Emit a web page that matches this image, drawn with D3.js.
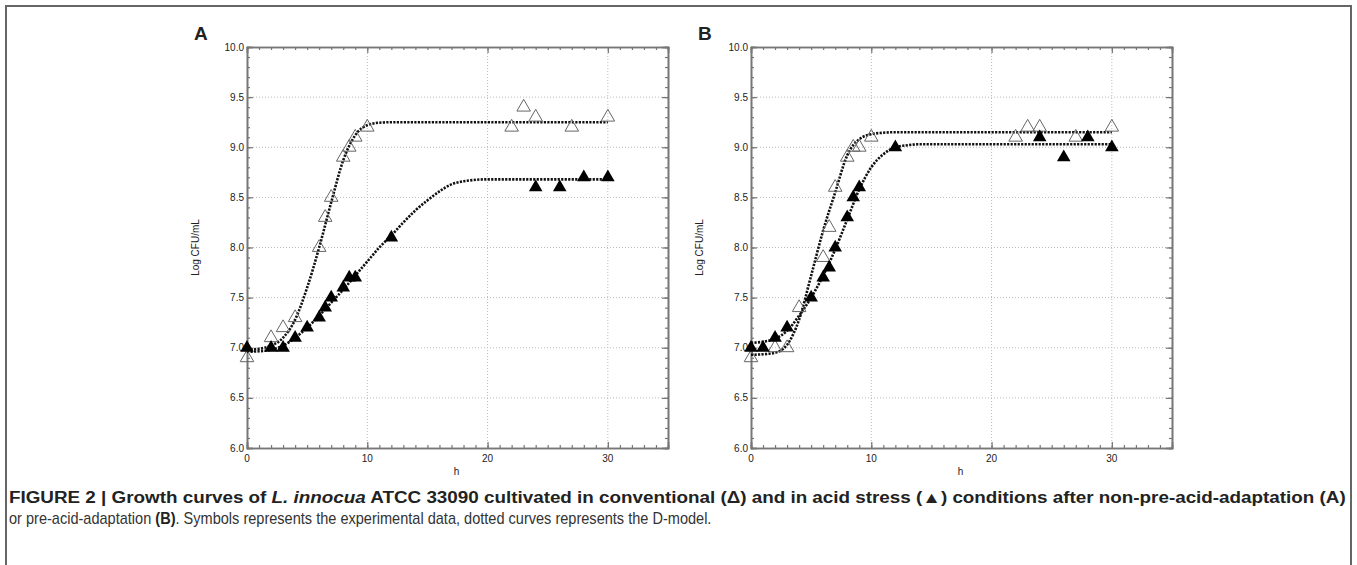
<!DOCTYPE html>
<html>
<head>
<meta charset="utf-8">
<script src="https://cdn.jsdelivr.net/npm/d3@7"></script>
<style>
	body { margin: 0; background: #fff; }
	svg { display: block; }
	text { font-family: "Liberation Sans", Arial, sans-serif; fill: #222; }
	.grid line { stroke: #bbb; stroke-width: 1; stroke-dasharray: 1 2; }
	.fit { fill: none; stroke: #111; stroke-width: 2.6; stroke-dasharray: 2.2 1.3; }
	.caption { font-family: "Liberation Sans Narrow", "Liberation Sans", Arial, sans-serif; font-size: 16px; }
</style>
</head>
<body>
<script>
// observed points, panel A (non-pre-acid-adaptation)
var hoursAConv = [0, 2, 3, 4, 6, 6.5, 7, 8, 8.5, 9, 10, 22, 23, 24, 27, 30];
var logAConv   = [6.9, 7.1, 7.2, 7.3, 8.0, 8.3, 8.5, 8.9, 9.0, 9.1, 9.2, 9.2, 9.4, 9.3, 9.2, 9.3];
var hoursAAcid = [0, 2, 3, 4, 5, 6, 6.5, 7, 8, 8.5, 9, 12, 24, 26, 28, 30];
var logAAcid   = [7.0, 7.0, 7.0, 7.1, 7.2, 7.3, 7.4, 7.5, 7.6, 7.7, 7.7, 8.1, 8.6, 8.6, 8.7, 8.7];

// observed points, panel B (pre-acid-adaptation)
var hoursBConv = [0, 2, 3, 4, 6, 6.5, 7, 8, 8.5, 9, 10, 22, 23, 24, 27, 30];
var logBConv   = [6.9, 7.0, 7.0, 7.4, 7.9, 8.2, 8.6, 8.9, 9.0, 9.0, 9.1, 9.1, 9.2, 9.2, 9.1, 9.2];
var hoursBAcid = [0, 1, 2, 3, 5, 6, 6.5, 7, 8, 8.5, 9, 12, 24, 26, 28, 30];
var logBAcid   = [7.0, 7.0, 7.1, 7.2, 7.5, 7.7, 7.8, 8.0, 8.3, 8.5, 8.6, 9.0, 9.1, 8.9, 9.1, 9.0];

// D-model curves
var fitHours = [0, 1, 2, 3, 4, 5, 6, 7, 8, 9, 10, 11, 12, 13, 14, 15, 16, 17, 18, 20, 25, 30];
var fitAConv = [6.98, 6.99, 7.02, 7.10, 7.28, 7.60, 8.00, 8.45, 8.87, 9.12, 9.22, 9.245, 9.25, 9.25, 9.25, 9.25, 9.25, 9.25, 9.25, 9.25, 9.25, 9.25];
var fitAAcid = [6.96, 6.965, 6.98, 7.02, 7.10, 7.20, 7.32, 7.45, 7.58, 7.72, 7.86, 8.00, 8.12, 8.25, 8.37, 8.47, 8.56, 8.63, 8.66, 8.68, 8.68, 8.68];
var fitBConv = [6.93, 6.935, 6.95, 7.03, 7.28, 7.72, 8.17, 8.55, 8.92, 9.08, 9.13, 9.145, 9.15, 9.15, 9.15, 9.15, 9.15, 9.15, 9.15, 9.15, 9.15, 9.15];
var fitBAcid = [7.05, 7.06, 7.09, 7.17, 7.32, 7.50, 7.72, 7.98, 8.28, 8.58, 8.80, 8.93, 9.00, 9.02, 9.03, 9.03, 9.03, 9.03, 9.03, 9.03, 9.03, 9.03];

var xMajor = [0, 10, 20, 30];
var yMajor = [6.0, 6.5, 7.0, 7.5, 8.0, 8.5, 9.0, 9.5, 10.0];

var W = 1357, H = 565;
var width = 421, height = 401;
var top0 = 47;

var svg = d3.select("body").append("svg")
	.attr("width", W)
	.attr("height", H);

// figure frame
svg.append("path")
	.attr("d", "M6,600 V6 H1351 V600")
	.attr("fill", "none")
	.attr("stroke", "#666")
	.attr("stroke-width", 2);

function zip(xs, ys) {
	return xs.map(function(x, i) { return [x, ys[i]]; });
}

function panel(left, letter, conv, acid, fits) {
	var x = d3.scaleLinear().domain([0, 35]).range([0, width]);
	var y = d3.scaleLinear().domain([6, 10]).range([height, 0]);
	var g = svg.append("g").attr("transform", "translate(" + left + "," + top0 + ")");

	// grid
	var grid = g.append("g").attr("class", "grid");
	grid.selectAll(".gx").data(xMajor.slice(1)).enter().append("line")
		.attr("x1", x).attr("x2", x).attr("y1", 0).attr("y2", height);
	grid.selectAll(".gy").data(yMajor.slice(1, -1)).enter().append("line")
		.attr("y1", y).attr("y2", y).attr("x1", 0).attr("x2", width);

	// inward ticks on all four sides
	var tickColor = "#777";
	var yMinor = d3.range(60, 101).map(function(d) { return d / 10; });
	var axes = [
		g.append("g").attr("transform", "translate(0," + height + ")")
			.call(d3.axisTop(x).tickValues(d3.range(0, 36)).tickSize(3).tickFormat("")),
		g.append("g").call(d3.axisBottom(x).tickValues(d3.range(0, 36)).tickSize(3).tickFormat("")),
		g.append("g").call(d3.axisRight(y).tickValues(yMinor).tickSize(3).tickFormat("")),
		g.append("g").attr("transform", "translate(" + width + ",0)")
			.call(d3.axisLeft(y).tickValues(yMinor).tickSize(3).tickFormat("")),
		g.append("g").call(d3.axisBottom(x).tickValues(xMajor).tickSize(6).tickFormat("")),
		g.append("g").attr("transform", "translate(0," + height + ")")
			.call(d3.axisTop(x).tickValues(xMajor).tickSize(6).tickFormat("")),
		g.append("g").call(d3.axisRight(y).tickValues(yMajor).tickSize(6).tickFormat("")),
		g.append("g").attr("transform", "translate(" + width + ",0)")
			.call(d3.axisLeft(y).tickValues(yMajor).tickSize(6).tickFormat(""))
	];
	axes.forEach(function(a) {
		a.selectAll("line").attr("stroke", tickColor).attr("stroke-width", 1.2);
		a.select(".domain").attr("stroke", tickColor).attr("stroke-width", 1.6);
	});

	// tick labels
	g.selectAll(".xl").data(xMajor).enter().append("text")
		.attr("x", x).attr("y", height + 14)
		.attr("text-anchor", "middle")
		.style("font-size", "10px")
		.text(function(d) { return d; });
	g.selectAll(".yl").data(yMajor).enter().append("text")
		.attr("x", -3).attr("y", y).attr("dy", "0.35em")
		.attr("text-anchor", "end")
		.style("font-size", "10px")
		.text(d3.format(".1f"));

	g.append("text")
		.attr("x", width / 2 - 1).attr("y", height + 27)
		.attr("text-anchor", "middle")
		.style("font-size", "10px")
		.text("h");
	g.append("text")
		.attr("transform", "translate(-48," + (height / 2) + ") rotate(-90)")
		.attr("text-anchor", "middle")
		.style("font-size", "10px")
		.text("Log CFU/mL");
	g.append("text")
		.attr("x", -53).attr("y", -7)
		.style("font-size", "19px")
		.style("font-weight", "bold")
		.text(letter);

	// model curves
	var line = d3.line()
		.x(function(d) { return x(d[0]); })
		.y(function(d) { return y(d[1]); })
		.curve(d3.curveMonotoneX);
	fits.forEach(function(f) {
		g.append("path").attr("class", "fit").attr("d", line(zip(fitHours, f)));
	});

	// symbols
	var tri = d3.symbol(d3.symbolTriangle, 80);
	g.selectAll(".open").data(conv).enter().append("path")
		.attr("d", tri)
		.attr("transform", function(d) { return "translate(" + x(d[0]) + "," + y(d[1]) + ")"; })
		.attr("fill", "none")
		.attr("stroke", "#666")
		.attr("stroke-width", 1);
	g.selectAll(".solid").data(acid).enter().append("path")
		.attr("d", tri)
		.attr("transform", function(d) { return "translate(" + x(d[0]) + "," + y(d[1]) + ")"; })
		.attr("fill", "#000");
}

panel(247, "A", zip(hoursAConv, logAConv), zip(hoursAAcid, logAAcid), [fitAConv, fitAAcid]);
panel(751, "B", zip(hoursBConv, logBConv), zip(hoursBAcid, logBAcid), [fitBConv, fitBAcid]);

// caption: squeeze each line horizontally to the width it has in the figure
function fitLine(sel, left, targetWidth) {
	var w = sel.node().getComputedTextLength();
	sel.attr("transform", "translate(" + left + ",0) scale(" + (targetWidth / w) + ",1)");
}

var cap1 = svg.append("text").attr("class", "caption")
	.attr("x", 0).attr("y", 503)
	.style("font-weight", "bold");
cap1.append("tspan").text("FIGURE 2 | Growth curves of ");
cap1.append("tspan").style("font-style", "italic").text("L. innocua");
cap1.append("tspan").text(" ATCC 33090 cultivated in conventional (\u0394) and in acid stress (\u25B2) conditions after non-pre-acid-adaptation (A)");
fitLine(cap1, 9, 1337);

var cap2 = svg.append("text").attr("class", "caption")
	.attr("x", 0).attr("y", 524)
	.style("fill", "#333");
cap2.append("tspan").text("or pre-acid-adaptation ");
cap2.append("tspan").style("font-weight", "bold").style("fill", "#222").text("(B)");
cap2.append("tspan").text(". Symbols represents the experimental data, dotted curves represents the D-model.");
fitLine(cap2, 9, 703);
</script>
</body>
</html>
